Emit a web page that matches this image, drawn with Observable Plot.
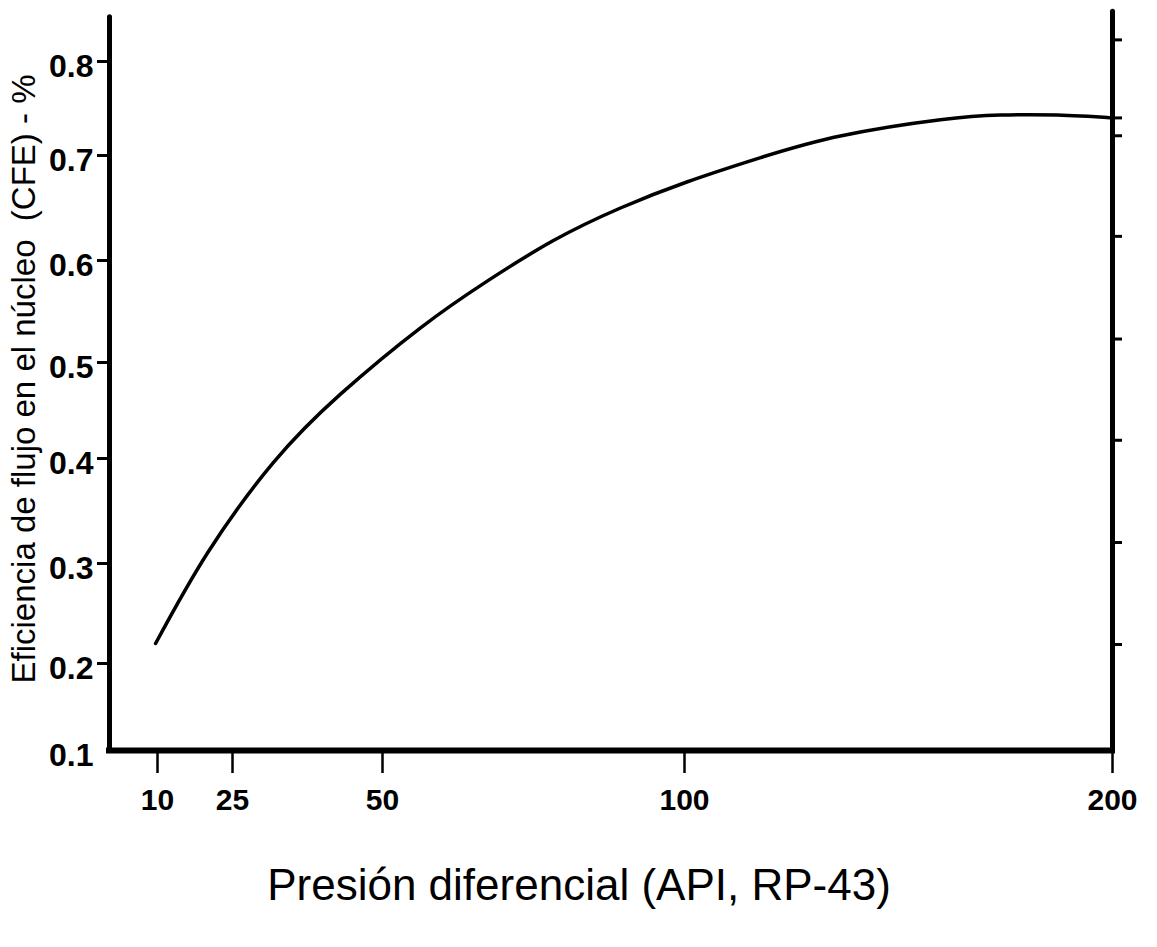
<!DOCTYPE html>
<html>
<head>
<meta charset="utf-8">
<script src="https://cdn.jsdelivr.net/npm/d3@7"></script>
<script src="https://cdn.jsdelivr.net/npm/@observablehq/plot@0.6"></script>
<style>
  html, body { margin: 0; padding: 0; background: #fff; }
</style>
</head>
<body>
<div id="chart"></div>
<script>
// Tick values and labels
const xTicks = [10, 25, 50, 100, 200];
const xTickLabels = ["10", "25", "50", "100", "200"];
const yTicks = [0.1, 0.2, 0.3, 0.4, 0.5, 0.6, 0.7, 0.8];
const yTickLabels = ["0.1", "0.2", "0.3", "0.4", "0.5", "0.6", "0.7", "0.8"];
const yTickMarks = [0.2, 0.3, 0.4, 0.5, 0.6, 0.7, 0.8];
// Unlabelled ticks on the right-hand axis (in left-axis units)
const rightTicks = [0.219, 0.320, 0.419, 0.523, 0.623, 0.721, 0.740, 0.823];

// Curve: differential pressure vs core flow efficiency
const pressure =   [9.6, 20.0, 31.8, 43.0, 56.3, 67.4, 78.3, 89.4, 100.7, 117.8, 136.7, 159.8, 173.8, 187.1, 200];
const efficiency = [0.220, 0.310, 0.396, 0.467, 0.534, 0.580, 0.619, 0.650, 0.675, 0.698, 0.721, 0.738, 0.743, 0.743, 0.740];

const yTitle = "Eficiencia de flujo en el núcleo\u00a0 (CFE) - %";
const xTitle = "Presión diferencial (API, RP-43)";

const curve = pressure.map((p, i) => ({p, e: efficiency[i]}));

// The printed axes are hand-ruled with uneven tick spacing: the scales
// transform values through the original tick placement.
const xWarp = d3.scaleLinear().domain([0, ...xTicks]).range([0, 48, 123, 273, 575, 1003]);
const yWarp = d3.scaleLinear().domain(yTicks).range([0, 87, 187, 292, 388, 490, 595, 689]);

const chart = Plot.plot({
  width: 1157,
  height: 947,
  marginTop: 5,
  marginBottom: 195,
  marginLeft: 0,
  marginRight: 0,
  x: {transform: xWarp, domain: [0, 1003], range: [109, 1112], axis: null},
  y: {transform: yWarp, domain: [0, 745], range: [750, 5], axis: null},
  style: {fontFamily: "'Liberation Sans', Arial, Helvetica, sans-serif", background: "#fff", color: "#000"},
  marks: [
    // axes frame
    Plot.ruleX([0], {y1: 0.1, y2: 0.847, stroke: "#000", strokeWidth: 5, strokeLinecap: "round"}),
    Plot.ruleX([200], {y1: 0.1, y2: 0.853, stroke: "#000", strokeWidth: 5, strokeLinecap: "round"}),
    Plot.ruleY([0.1], {x1: 0, x2: 200, stroke: "#000", strokeWidth: 6, strokeLinecap: "square"}),
    // ticks
    Plot.ruleY(yTickMarks, {x1: 0, x2: 0, insetLeft: -12, stroke: "#000", strokeWidth: 3}),
    Plot.ruleY(rightTicks, {x1: 200, x2: 200, insetRight: -10, stroke: "#000", strokeWidth: 3}),
    Plot.ruleX(xTicks, {y1: 0.1, y2: 0.1, insetBottom: -23, stroke: "#000", strokeWidth: 2.5}),
    // tick labels
    Plot.text(yTicks, {x: 0, y: d => d, text: (d, i) => yTickLabels[i], textAnchor: "end", dx: -16, dy: 5, fontSize: 32, fontWeight: "bold", fill: "#000"}),
    Plot.text(xTicks, {x: d => d, y: 0.1, text: (d, i) => xTickLabels[i], dy: 50, fontSize: 30, fontWeight: "bold", fill: "#000"}),
    // titles
    Plot.text([yTitle], {frameAnchor: "left", textAnchor: "middle", rotate: -90, dx: 24, fontSize: 33, fill: "#000"}),
    Plot.text([xTitle], {frameAnchor: "bottom", textAnchor: "middle", dy: 147, fontSize: 44, fill: "#000"}),
    // curve
    Plot.line(curve, {x: "p", y: "e", curve: "natural", stroke: "#000", strokeWidth: 3.5})
  ]
});

document.getElementById("chart").appendChild(chart);
</script>
</body>
</html>
